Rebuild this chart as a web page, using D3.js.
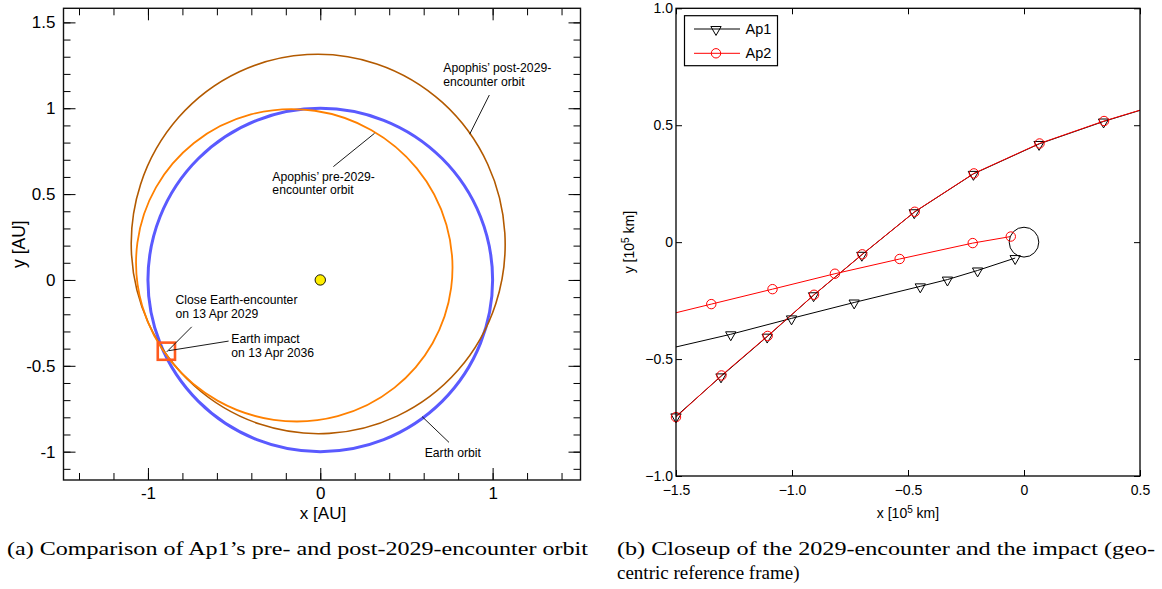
<!DOCTYPE html>
<html><head><meta charset="utf-8">
<script src="https://cdn.jsdelivr.net/npm/d3@7"></script>
<style>
body{margin:0;background:#fff}
svg{display:block}
text{font-family:"Liberation Sans",Arial,Helvetica,sans-serif;fill:#000}
.cap{font-family:"Liberation Serif","DejaVu Serif",serif}
</style>
</head><body>
<svg id="c" width="1162" height="589"></svg>
<script>
// ---------------- DATA ----------------
// (a) heliocentric orbits: semi-major axis [AU], eccentricity, direction of perihelion [deg]
const orbitNames   = ["Earth orbit", "Apophis' pre-2029-encounter orbit", "Apophis' post-2029-encounter orbit"];
const orbitA       = [1.0, 0.922, 1.105];
const orbitE       = [0.0, 0.188, 0.190];
const orbitPeri    = [0, -29.5, -86.7];
const sunPos       = [0, 0];
const boxCenter    = [-0.893, -0.415];
const boxSize      = 0.10;

const aXMajor = [-1, 0, 1];
const aXMinor = [-1.4, -1.2, -1.0, -0.8, -0.6, -0.4, -0.2, 0, 0.2, 0.4, 0.6, 0.8, 1.0, 1.2, 1.4];
const aYMajor = [-1, -0.5, 0, 0.5, 1, 1.5];
const aYMinor = [-1.1, -1.0, -0.9, -0.8, -0.7, -0.6, -0.5, -0.4, -0.3, -0.2, -0.1, 0, 0.1, 0.2, 0.3, 0.4, 0.5, 0.6, 0.7, 0.8, 0.9, 1.0, 1.1, 1.2, 1.3, 1.4, 1.5];
const aXLabels = ["-1", "0", "1"];
const aYLabels = ["-1", "-0.5", "0", "0.5", "1", "1.5"];

// (b) geocentric closeup [10^5 km]
const ap1_2029_x = [-1.500, -1.306, -1.107, -0.907, -0.699, -0.473, -0.218, 0.065, 0.343, 0.620];
const ap1_2029_y = [-0.745, -0.574, -0.404, -0.227, -0.054, 0.128, 0.292, 0.420, 0.516, 0.600];
const ap2_2029_x = [-1.500, -1.304, -1.105, -0.905, -0.697, -0.471, -0.216, 0.067, 0.345, 0.622];
const ap2_2029_y = [-0.748, -0.570, -0.401, -0.225, -0.052, 0.130, 0.294, 0.422, 0.518, 0.601];
const ap1_2036_x = [-1.560, -1.264, -1.002, -0.732, -0.447, -0.330, -0.200, -0.038];
const ap1_2036_y = [-0.462, -0.394, -0.326, -0.258, -0.189, -0.160, -0.121, -0.068];
const ap2_2036_x = [-1.620, -1.348, -1.084, -0.815, -0.536, -0.221, -0.057];
const ap2_2036_y = [-0.331, -0.265, -0.201, -0.135, -0.072, -0.004, 0.024];
const earthRadius = 0.06378;
const bXTicks = [-1.5, -1.0, -0.5, 0, 0.5];
const bYTicks = [-1.0, -0.5, 0, 0.5, 1.0];
const bXLabels = ["\u22121.5", "\u22121.0", "\u22120.5", "0", "0.5"];
const bYLabels = ["\u22121.0", "\u22120.5", "0", "0.5", "1.0"];
const legendNames = ["Ap1", "Ap2"];

// ---------------- LAYOUT / STYLE ----------------
const svg = d3.select("#c");
const LA = {x0: 63.5, x1: 580.5, y0: 8.3, y1: 480};
const LB = {x0: 676, x1: 1140, y0: 8.3, y1: 476};
const orbitColors = ["#5a5aff", "#ff8000", "#b35a00"];
const orbitWidths = [3, 1.8, 1.6];

// ============ PANEL (a) ============
const xA = d3.scaleLinear().domain([-1.49, 1.51]).range([LA.x0, LA.x1]);
const yA = d3.scaleLinear().domain([-1.165, 1.582]).range([LA.y1, LA.y0]);

svg.append("clipPath").attr("id", "clipA").append("rect")
  .attr("x", LA.x0).attr("y", LA.y0).attr("width", LA.x1 - LA.x0).attr("height", LA.y1 - LA.y0);

const gA = svg.append("g").attr("clip-path", "url(#clipA)");
const kx = xA(1) - xA(0), ky = yA(0) - yA(1);
const orb = gA.append("g").attr("transform", `translate(${xA(0)},${yA(0)}) scale(${kx},${-ky})`);
const order = [0, 2, 1];
order.forEach(i => {
  const a = orbitA[i], e = orbitE[i];
  orb.append("ellipse")
    .attr("cx", -a * e).attr("cy", 0)
    .attr("rx", a).attr("ry", a * Math.sqrt(1 - e * e))
    .attr("transform", `rotate(${orbitPeri[i]})`)
    .attr("fill", "none").attr("stroke", orbitColors[i])
    .attr("stroke-width", orbitWidths[i]).attr("vector-effect", "non-scaling-stroke");
});
// Sun
gA.append("circle").attr("cx", xA(sunPos[0])).attr("cy", yA(sunPos[1])).attr("r", 5.2)
  .attr("fill", "#ffee00").attr("stroke", "#000").attr("stroke-width", 0.9);
// box
gA.append("rect")
  .attr("x", xA(boxCenter[0] - boxSize / 2)).attr("y", yA(boxCenter[1] + boxSize / 2))
  .attr("width", xA(boxSize) - xA(0)).attr("height", yA(0) - yA(boxSize))
  .attr("fill", "none").attr("stroke", "#ff5a1e").attr("stroke-width", 2.6);

// annotations (data coordinates)
const annA = [
  {lines: ["Apophis\u2019 post-2029-", "encounter orbit"], at: [0.714, 1.210], from: [0.981, 1.077], to: [0.867, 0.849]},
  {lines: ["Apophis\u2019 pre-2029-", "encounter orbit"], at: [-0.278, 0.578], from: [0.076, 0.66], to: [0.315, 0.854]},
  {lines: ["Close Earth-encounter", "on 13 Apr 2029"], at: [-0.840, -0.141], from: [-0.746, -0.273], to: [-0.891, -0.419]},
  {lines: ["Earth impact", "on 13 Apr 2036"], at: [-0.516, -0.368], from: [-0.532, -0.356], to: [-0.880, -0.412]},
  {lines: ["Earth orbit"], at: [0.606, -1.030], from: [0.591, -0.796], to: [0.747, -0.946]}
];
const annG = svg.append("g");
annA.forEach(an => {
  annG.append("line").attr("x1", xA(an.from[0])).attr("y1", yA(an.from[1]))
    .attr("x2", xA(an.to[0])).attr("y2", yA(an.to[1])).attr("stroke", "#000").attr("stroke-width", 0.9);
  an.lines.forEach((t, j) => {
    annG.append("text").attr("x", xA(an.at[0])).attr("y", yA(an.at[1]) + j * 13.7)
      .attr("font-size", 12.2).text(t);
  });
});

// axes (a)
function styleAxis(g) {
  g.select(".domain").remove();
  g.selectAll(".tick line").attr("stroke", "#000").attr("stroke-width", 1);
}
const fA = 17;
svg.append("g").attr("transform", `translate(0,${LA.y1})`)
  .call(d3.axisBottom(xA).tickValues(aXMinor).tickSize(-7).tickFormat("")).call(styleAxis);
svg.append("g").attr("transform", `translate(0,${LA.y1})`)
  .call(d3.axisBottom(xA).tickValues(aXMajor).tickSize(-12).tickPadding(7).tickFormat((d, i) => aXLabels[i]))
  .call(styleAxis).selectAll("text").attr("font-size", fA).attr("font-family", "Liberation Sans");
svg.append("g").attr("transform", `translate(0,${LA.y0})`)
  .call(d3.axisTop(xA).tickValues(aXMinor).tickSize(-7).tickFormat("")).call(styleAxis);
svg.append("g").attr("transform", `translate(0,${LA.y0})`)
  .call(d3.axisTop(xA).tickValues(aXMajor).tickSize(-12).tickFormat("")).call(styleAxis);
svg.append("g").attr("transform", `translate(${LA.x0},0)`)
  .call(d3.axisLeft(yA).tickValues(aYMinor).tickSize(-7).tickFormat("")).call(styleAxis);
svg.append("g").attr("transform", `translate(${LA.x0},0)`)
  .call(d3.axisLeft(yA).tickValues(aYMajor).tickSize(-12).tickPadding(8).tickFormat((d, i) => aYLabels[i]))
  .call(styleAxis).selectAll("text").attr("font-size", fA).attr("font-family", "Liberation Sans");
svg.append("g").attr("transform", `translate(${LA.x1},0)`)
  .call(d3.axisRight(yA).tickValues(aYMinor).tickSize(-7).tickFormat("")).call(styleAxis);
svg.append("g").attr("transform", `translate(${LA.x1},0)`)
  .call(d3.axisRight(yA).tickValues(aYMajor).tickSize(-12).tickFormat("")).call(styleAxis);
svg.append("rect").attr("x", LA.x0).attr("y", LA.y0).attr("width", LA.x1 - LA.x0).attr("height", LA.y1 - LA.y0)
  .attr("fill", "none").attr("stroke", "#111").attr("stroke-width", 1.4);
svg.append("text").attr("x", (LA.x0 + LA.x1) / 2 + 1).attr("y", 518.5).attr("text-anchor", "middle")
  .attr("font-size", 17).text("x [AU]");
svg.append("text").attr("transform", `translate(25,${(LA.y0 + LA.y1) / 2}) rotate(-90)`).attr("text-anchor", "middle")
  .attr("font-size", 17.5).text("y [AU]");

// ============ PANEL (b) ============
const xB = d3.scaleLinear().domain([-1.5, 0.5]).range([LB.x0, LB.x1]);
const yB = d3.scaleLinear().domain([-1, 1]).range([LB.y1, LB.y0]);
svg.append("clipPath").attr("id", "clipB").append("rect")
  .attr("x", LB.x0).attr("y", LB.y0).attr("width", LB.x1 - LB.x0).attr("height", LB.y1 - LB.y0);

const series = [
  {x: ap1_2029_x, y: ap1_2029_y, color: "#000", mark: "tri"},
  {x: ap1_2036_x, y: ap1_2036_y, color: "#000", mark: "tri"},
  {x: ap2_2036_x, y: ap2_2036_y, color: "#ff0000", mark: "circ"},
  {x: ap2_2029_x, y: ap2_2029_y, color: "#ff0000", mark: "circ"}
];
const lineGen = d3.line().x(d => xB(d[0])).y(d => yB(d[1]));
const gBl = svg.append("g").attr("clip-path", "url(#clipB)");
const gBm = svg.append("g");
const tri = d3.symbol().type(d3.symbolTriangle).size(46);
function drawMarker(g, kind, cx, cy, color) {
  if (kind === "tri") {
    g.append("path").attr("d", tri()).attr("transform", `translate(${cx},${cy + 0.5}) rotate(180)`)
      .attr("fill", "none").attr("stroke", color).attr("stroke-width", 1);
  } else {
    g.append("circle").attr("cx", cx).attr("cy", cy).attr("r", 4.7)
      .attr("fill", "none").attr("stroke", color).attr("stroke-width", 1);
  }
}
series.forEach(s => {
  const pts = s.x.map((v, i) => [v, s.y[i]]);
  gBl.append("path").attr("d", lineGen(pts)).attr("fill", "none").attr("stroke", s.color).attr("stroke-width", 1);
  pts.filter(p => p[0] >= -1.5 && p[0] <= 0.5 && p[1] >= -1 && p[1] <= 1)
    .forEach(p => drawMarker(gBm, s.mark, xB(p[0]), yB(p[1]), s.color));
});
// Earth
gBl.append("ellipse").attr("cx", xB(0)).attr("cy", yB(0))
  .attr("rx", xB(earthRadius) - xB(0)).attr("ry", yB(0) - yB(earthRadius))
  .attr("fill", "none").attr("stroke", "#000").attr("stroke-width", 1);

// axes (b)
const fB = 14;
svg.append("g").attr("transform", `translate(0,${LB.y1})`)
  .call(d3.axisBottom(xB).tickValues(bXTicks).tickSize(-6).tickPadding(9).tickFormat((d, i) => bXLabels[i]))
  .call(styleAxis).selectAll("text").attr("font-size", fB).attr("font-family", "Liberation Sans");
svg.append("g").attr("transform", `translate(0,${LB.y0})`)
  .call(d3.axisTop(xB).tickValues(bXTicks).tickSize(-6).tickFormat("")).call(styleAxis);
svg.append("g").attr("transform", `translate(${LB.x0},0)`)
  .call(d3.axisLeft(yB).tickValues(bYTicks).tickSize(-6).tickPadding(3).tickFormat((d, i) => bYLabels[i]))
  .call(styleAxis).selectAll("text").attr("font-size", fB).attr("font-family", "Liberation Sans");
svg.append("g").attr("transform", `translate(${LB.x1},0)`)
  .call(d3.axisRight(yB).tickValues(bYTicks).tickSize(-6).tickFormat("")).call(styleAxis);
svg.append("rect").attr("x", LB.x0).attr("y", LB.y0).attr("width", LB.x1 - LB.x0).attr("height", LB.y1 - LB.y0)
  .attr("fill", "none").attr("stroke", "#000").attr("stroke-width", 1.3);

const xl = svg.append("text").attr("x", (LB.x0 + LB.x1) / 2).attr("y", 518).attr("text-anchor", "middle").attr("font-size", 14);
xl.append("tspan").text("x [10");
xl.append("tspan").attr("dy", -5).attr("font-size", 10).text("5");
xl.append("tspan").attr("dy", 5).text(" km]");
const yl = svg.append("text").attr("transform", `translate(634,${(LB.y0 + LB.y1) / 2}) rotate(-90)`).attr("text-anchor", "middle").attr("font-size", 14);
yl.append("tspan").text("y [10");
yl.append("tspan").attr("dy", -5).attr("font-size", 10).text("5");
yl.append("tspan").attr("dy", 5).text(" km]");

// legend
const lg = svg.append("g");
lg.append("rect").attr("x", 684.5).attr("y", 15.7).attr("width", 93).attr("height", 50)
  .attr("fill", "#fff").attr("stroke", "#000").attr("stroke-width", 1.2);
legendNames.forEach((n, i) => {
  const yy = 29 + i * 24.3;
  const col = i === 0 ? "#000" : "#ff0000";
  lg.append("line").attr("x1", 694).attr("x2", 740).attr("y1", yy).attr("y2", yy).attr("stroke", col).attr("stroke-width", 1);
  drawMarker(lg, i === 0 ? "tri" : "circ", 716, yy, col);
  lg.append("text").attr("x", 745.5).attr("y", yy + 5).attr("font-size", 14.5).text(n);
});

// captions
svg.append("text").attr("class", "cap").attr("x", 7).attr("y", 555).attr("font-size", 19)
  .attr("textLength", 581).attr("lengthAdjust", "spacingAndGlyphs")
  .text("(a)  Comparison of Ap1\u2019s pre- and post-2029-encounter orbit");
svg.append("text").attr("class", "cap").attr("x", 617).attr("y", 555).attr("font-size", 19)
  .attr("textLength", 538).attr("lengthAdjust", "spacingAndGlyphs")
  .text("(b)  Closeup of the 2029-encounter and the impact (geo-");
svg.append("text").attr("class", "cap").attr("x", 617).attr("y", 579).attr("font-size", 19)
  .text("centric reference frame)");
</script>
</body></html>
